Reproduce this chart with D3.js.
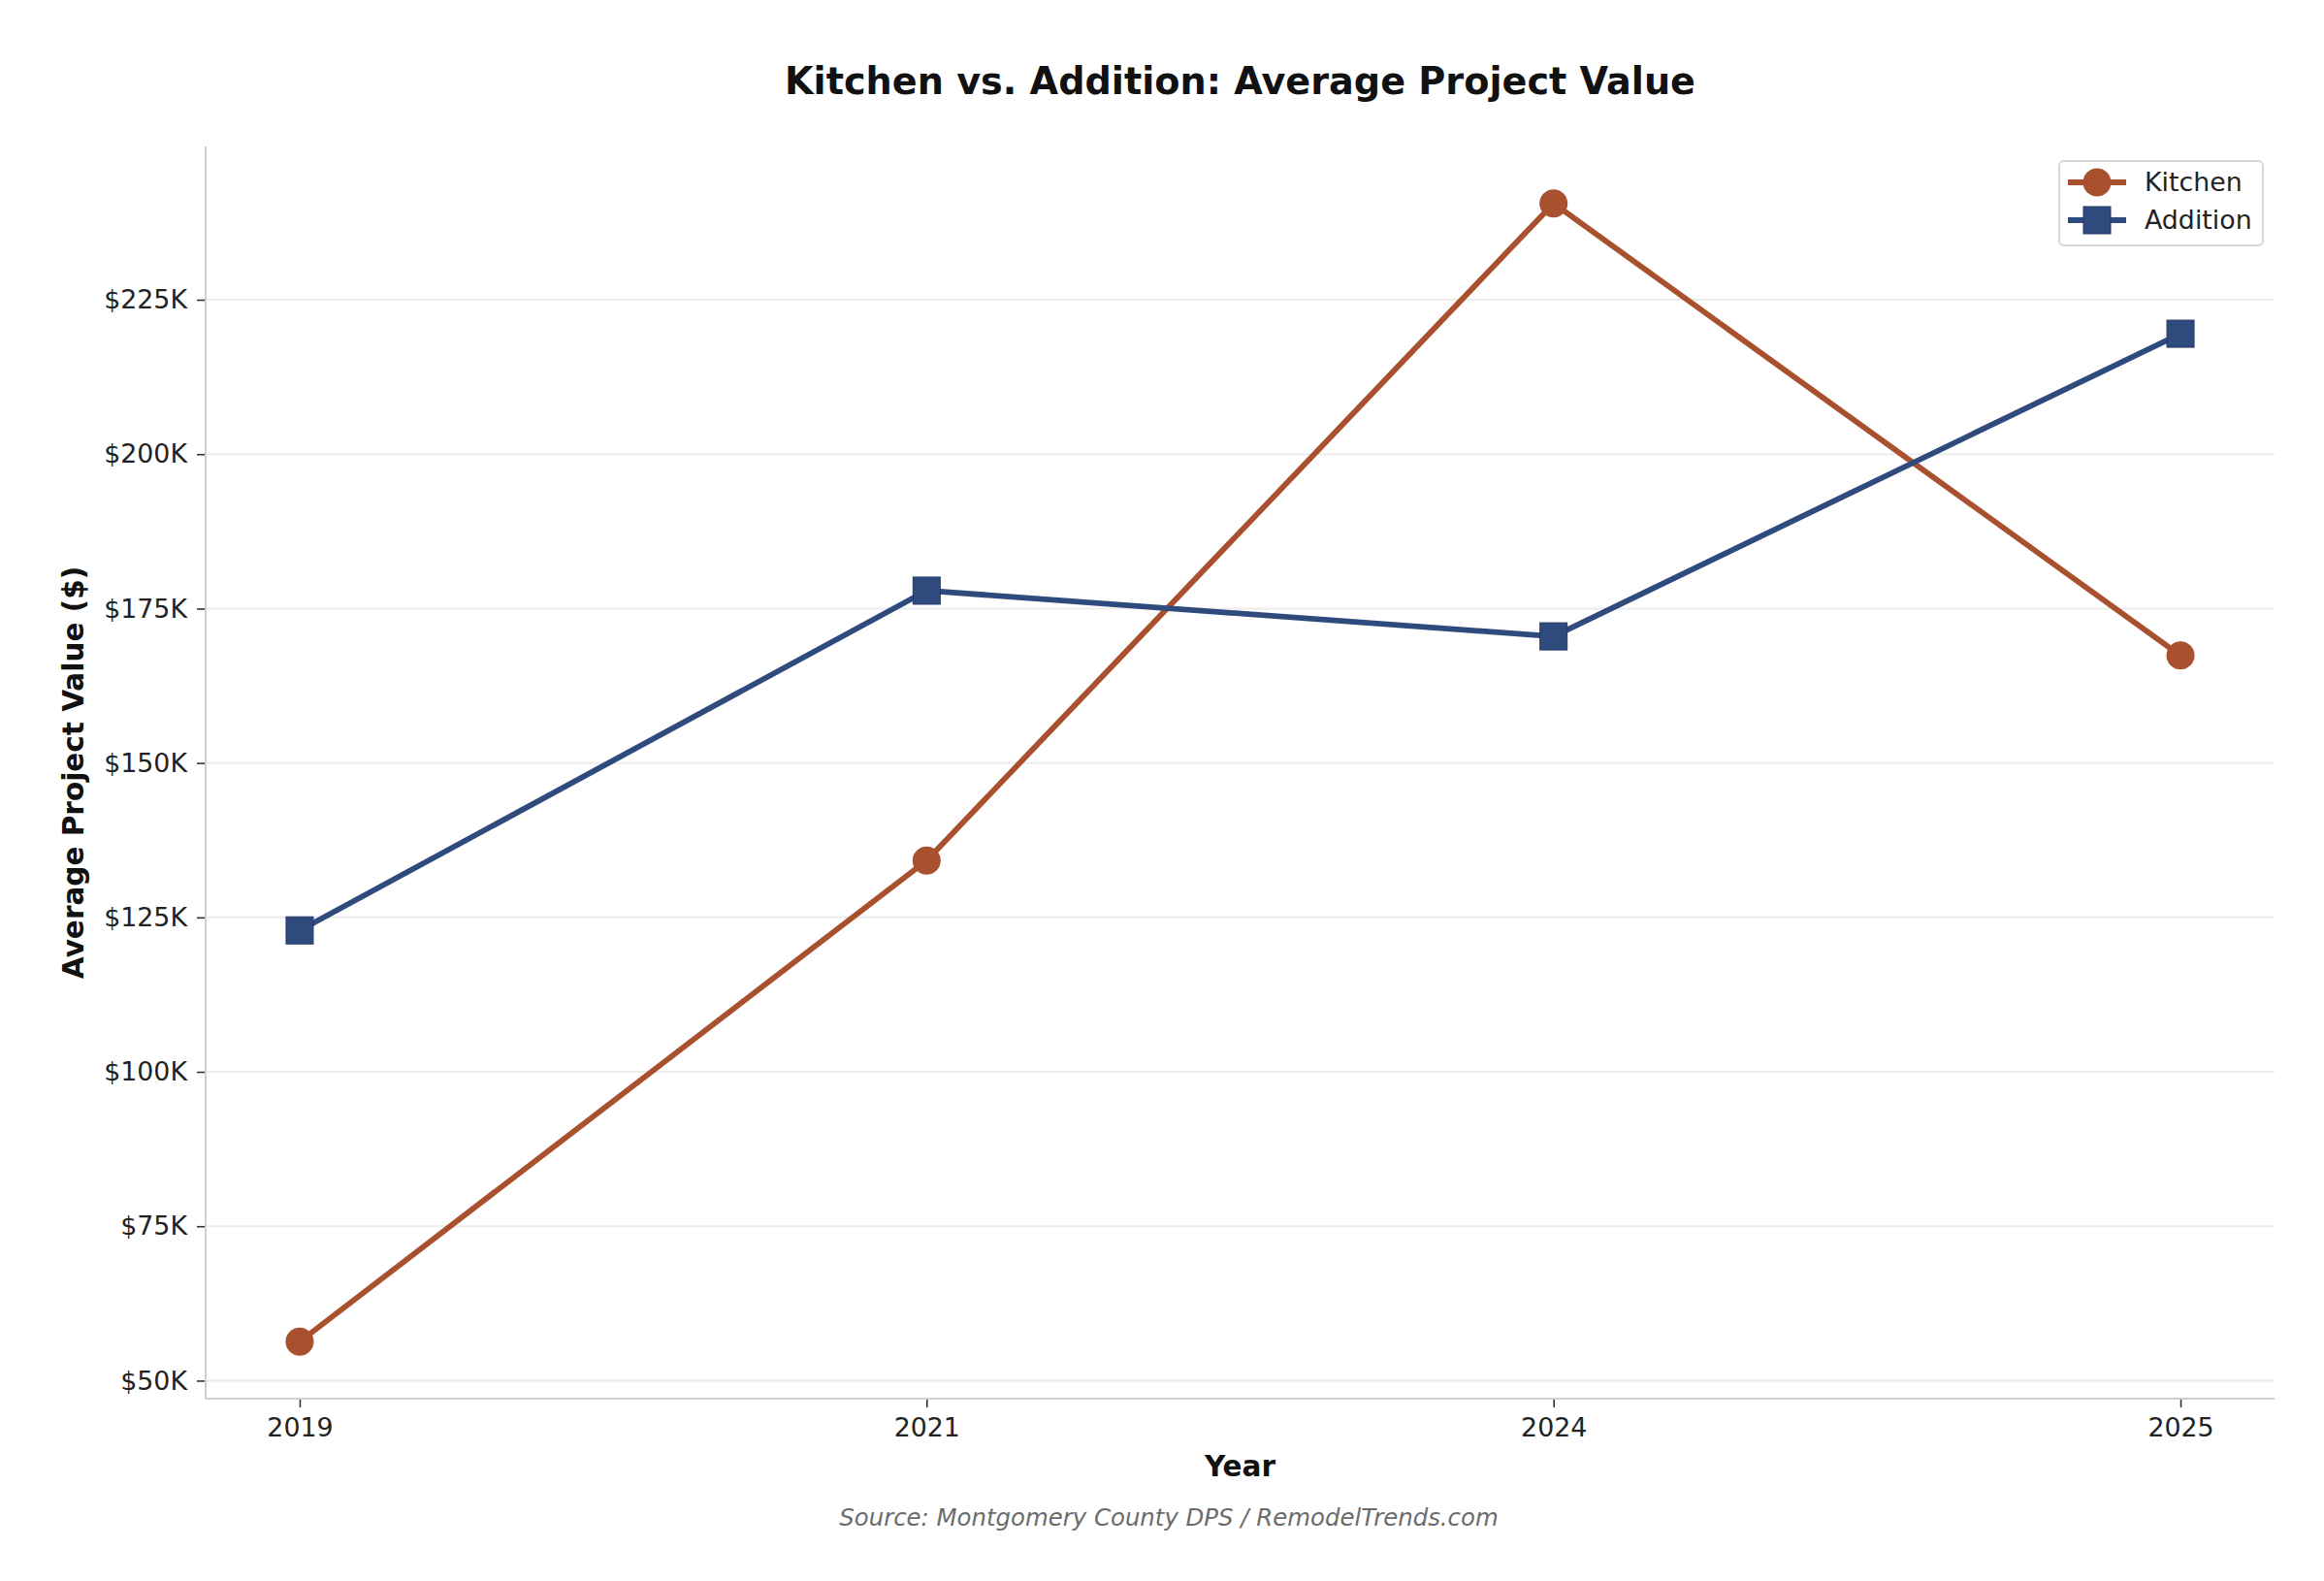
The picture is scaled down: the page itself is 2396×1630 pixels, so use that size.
<!DOCTYPE html>
<html>
<head>
<meta charset="utf-8">
<script src="https://cdn.jsdelivr.net/npm/d3@7"></script>
<style>
  html, body { margin: 0; padding: 0; background: #fff; }
  text { font-family: "DejaVu Sans", sans-serif; }
</style>
</head>
<body>
<div id="chart"></div>
<script>
var years = ["2019", "2021", "2024", "2025"]
var kitchen = [56300, 134200, 240600, 167400]
var addition = [122900, 177900, 170500, 219500]
var yTicks = [50000, 75000, 100000, 125000, 150000, 175000, 200000, 225000]

var width = 2396
var height = 1630
var margin = {left: 212, right: 51, top: 151, bottom: 188}

var colorKitchen = "#a9502f"
var colorAddition = "#2f4a7d"

var svg = d3.select("#chart").append("svg")
	.attr("width", width).attr("height", height)

var x = d3.scalePoint()
	.domain(years)
	.range([margin.left, width - margin.right])
	.padding(0.15)

var all = kitchen.concat(addition)
var lo = d3.min(all), hi = d3.max(all)
var pad = (hi - lo) * 0.05
var y = d3.scaleLinear()
	.domain([lo - pad, hi + pad])
	.range([height - margin.bottom, margin.top])

// grid
svg.append("g").selectAll("line").data(yTicks).enter().append("line")
	.attr("x1", margin.left).attr("x2", width - margin.right)
	.attr("y1", function(d){ return y(d) }).attr("y2", function(d){ return y(d) })
	.attr("stroke", "#ececec").attr("stroke-width", 2)

// axes
var yAxis = svg.append("g")
	.attr("transform", "translate(" + margin.left + ",0)")
	.call(d3.axisLeft(y).tickValues(yTicks).tickSize(9).tickPadding(10)
		.tickFormat(function(d){ return "$" + (d / 1000) + "K" }))
yAxis.select(".domain").remove()
yAxis.selectAll("line").attr("stroke", "#333").attr("stroke-width", 1.6)
yAxis.selectAll("text").style("font-size", "26.8px").attr("fill", "#222")

var xAxis = svg.append("g")
	.attr("transform", "translate(0," + (height - margin.bottom) + ")")
	.call(d3.axisBottom(x).tickSize(9).tickPadding(11))
xAxis.select(".domain").remove()
xAxis.selectAll("line").attr("stroke", "#333").attr("stroke-width", 1.6)
xAxis.selectAll("text").style("font-size", "26.8px").attr("fill", "#222")

// spines
svg.append("line")
	.attr("x1", margin.left).attr("x2", margin.left)
	.attr("y1", margin.top).attr("y2", height - margin.bottom)
	.attr("stroke", "#cfcfcf").attr("stroke-width", 2)
svg.append("line")
	.attr("x1", margin.left).attr("x2", width - margin.right)
	.attr("y1", height - margin.bottom).attr("y2", height - margin.bottom)
	.attr("stroke", "#cfcfcf").attr("stroke-width", 2)

var line = d3.line()
	.x(function(d, i){ return x(years[i]) })
	.y(function(d){ return y(d) })

// kitchen
svg.append("path").attr("d", line(kitchen))
	.attr("fill", "none").attr("stroke", colorKitchen).attr("stroke-width", 5.8)
	.attr("stroke-linejoin", "round")
svg.append("g").selectAll("circle").data(kitchen).enter().append("circle")
	.attr("cx", function(d, i){ return x(years[i]) })
	.attr("cy", function(d){ return y(d) })
	.attr("r", 14.5)
	.attr("fill", colorKitchen)

// addition
svg.append("path").attr("d", line(addition))
	.attr("fill", "none").attr("stroke", colorAddition).attr("stroke-width", 5.8)
	.attr("stroke-linejoin", "round")
svg.append("g").selectAll("rect").data(addition).enter().append("rect")
	.attr("x", function(d, i){ return x(years[i]) - 14 })
	.attr("y", function(d){ return y(d) - 14 })
	.attr("width", 28).attr("height", 28)
	.attr("fill", colorAddition).attr("stroke", "#22396b").attr("stroke-width", 1)

// legend
var legend = svg.append("g")
legend.append("rect")
	.attr("x", 2123).attr("y", 166).attr("width", 210).attr("height", 87)
	.attr("rx", 5).attr("fill", "#fff").attr("stroke", "#d6d6d6").attr("stroke-width", 2)
var entries = [
	{label: "Kitchen", color: colorKitchen, shape: "circle"},
	{label: "Addition", color: colorAddition, shape: "square"}
]
entries.forEach(function(e, i){
	var cy = 188 + i * 39
	legend.append("line")
		.attr("x1", 2132).attr("x2", 2192).attr("y1", cy).attr("y2", cy)
		.attr("stroke", e.color).attr("stroke-width", 5.8)
	if(e.shape == "circle"){
		legend.append("circle").attr("cx", 2162).attr("cy", cy).attr("r", 14.5)
			.attr("fill", e.color)
	}else{
		legend.append("rect").attr("x", 2148).attr("y", cy - 14)
			.attr("width", 28).attr("height", 28)
			.attr("fill", e.color).attr("stroke", "#22396b").attr("stroke-width", 1)
	}
	legend.append("text").text(e.label)
		.attr("x", 2211).attr("y", cy)
		.attr("dy", "0.35em")
		.style("font-size", "26.8px").attr("fill", "#222")
})

// titles
svg.append("text").text("Kitchen vs. Addition: Average Project Value")
	.attr("x", (margin.left + width - margin.right) / 2).attr("y", 97)
	.attr("text-anchor", "middle")
	.style("font-size", "38.2px").style("font-weight", "bold").attr("fill", "#111")

svg.append("text").text("Year")
	.attr("x", (margin.left + width - margin.right) / 2).attr("y", 1522)
	.attr("text-anchor", "middle")
	.style("font-size", "29.5px").style("font-weight", "bold").attr("fill", "#111")

svg.append("text").text("Average Project Value ($)")
	.attr("transform", "translate(86," + ((margin.top + height - margin.bottom) / 2) + ") rotate(-90)")
	.attr("text-anchor", "middle")
	.style("font-size", "29.5px").style("font-weight", "bold").attr("fill", "#111")

svg.append("text").text("Source: Montgomery County DPS / RemodelTrends.com")
	.attr("x", 1205).attr("y", 1573)
	.attr("text-anchor", "middle")
	.style("font-size", "24.4px").style("font-style", "italic").attr("fill", "#6b6b6b")
</script>
</body>
</html>
